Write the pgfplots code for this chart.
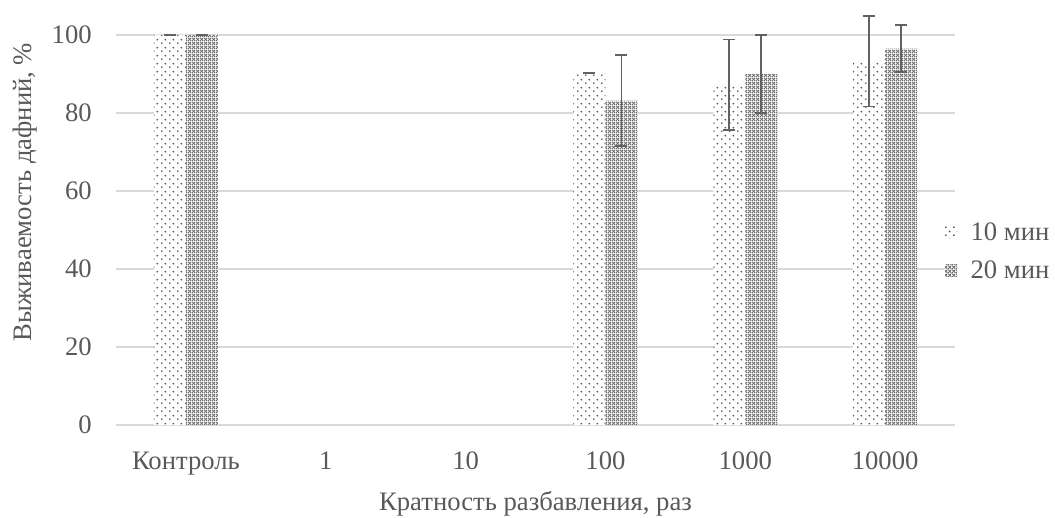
\documentclass[border=0pt]{standalone}
\usepackage{pgfplots}
\pgfplotsset{compat=1.18}
\usepackage{pgfplotstable}
\usepackage{fontspec}
\setmainfont{Liberation Serif}
\usetikzlibrary{patterns.meta}

\definecolor{txt}{HTML}{595959}
\definecolor{gridc}{HTML}{D9D9D9}
\definecolor{errc}{HTML}{626262}
\definecolor{dotc}{HTML}{555555}
\definecolor{crossc}{HTML}{6A6A6A}

\newcommand\chartfont{\fontsize{20}{24}\selectfont}

% sparse staggered dots (10 min)
\tikzdeclarepattern{
  name=sparsedots, type=uncolored,
  bounding box={(0pt,0pt) and (6pt,6pt)},
  tile size={(6pt,6pt)},
  code={\fill (1.5pt,1.5pt) circle (0.8pt); \fill (4.5pt,4.5pt) circle (0.8pt);}
}
% dense diagonal lattice (20 min)
\tikzdeclarepattern{
  name=densecross, type=uncolored,
  bounding box={(0pt,0pt) and (3pt,3pt)},
  tile size={(3pt,3pt)},
  code={\draw[line width=0.8pt] (0pt,0pt) -- (3pt,3pt); \draw[line width=0.8pt] (0pt,3pt) -- (3pt,0pt);}
}

% survival of daphnia, %, with error
\pgfplotstableread{
x  t10   e10   t20   e20
0  100   0     100   0
3  90.3  0     83.2  11.6
4  87.2  11.6  90.0  10.0
5  93.3  11.6  96.5  6.0
}\survival

\begin{document}
\begin{tikzpicture}
\path[use as bounding box] (0pt,0pt) rectangle (791.25pt,387.75pt);
\begin{axis}[
  at={(87pt,69pt)}, anchor=south west,
  scale only axis, width=629.25pt, height=292.5pt,
  ybar=0pt, bar width=24pt,
  xmin=-0.5, xmax=5.5, ymin=0, ymax=100,
  xtick={0,...,5},
  xticklabels={Контроль,1,10,100,1000,10000},
  ytick={0,20,...,100},
  ymajorgrids, grid style={gridc, line width=1.1pt},
  axis line style={draw=none},
  major tick length=0pt,
  clip=false,
  tick label style={font=\chartfont, text=txt},
  /pgf/number format/assume math mode=true,
  xticklabel style={anchor=base, inner sep=0pt, yshift=-33pt},
  yticklabel style={anchor=east, inner sep=0pt, xshift=-18pt},
  xlabel={Кратность разбавления, раз},
  xlabel style={at={(axis description cs:0.5,-0.218)}, anchor=base, inner sep=0pt, font=\chartfont, text=txt},
  ylabel={Выживаемость дафний, \%},
  ylabel style={at={(axis description cs:-0.1005,0.597)}, anchor=base, inner sep=0pt, font=\chartfont, text=txt},
  legend style={at={(axis description cs:0.988,0.445)}, anchor=west, draw=none, fill=none,
    font=\chartfont, text=txt, row sep=10pt, inner sep=0pt,
    /tikz/every odd column/.append style={column sep=8pt}},
  legend cell align=left,
  legend image code/.code={\path[#1] (0pt,-4.5pt) rectangle (9pt,4.5pt);},
]
\addplot[fill=white, draw=none, postaction={pattern=sparsedots, pattern color=dotc},
  error bars/.cd, y dir=both, y explicit,
  error bar style={errc, line width=1.2pt},
  error mark options={errc, rotate=90, mark size=4.5pt, line width=1.2pt}]
  table[x=x, y=t10, y error=e10]{\survival};
\addlegendentry{10 мин}
\addplot[fill=white, draw=none, postaction={pattern=densecross, pattern color=crossc},
  error bars/.cd, y dir=both, y explicit,
  error bar style={errc, line width=1.2pt},
  error mark options={errc, rotate=90, mark size=4.5pt, line width=1.2pt}]
  table[x=x, y=t20, y error=e20]{\survival};
\addlegendentry{20 мин}
\end{axis}
\end{tikzpicture}
\end{document}
